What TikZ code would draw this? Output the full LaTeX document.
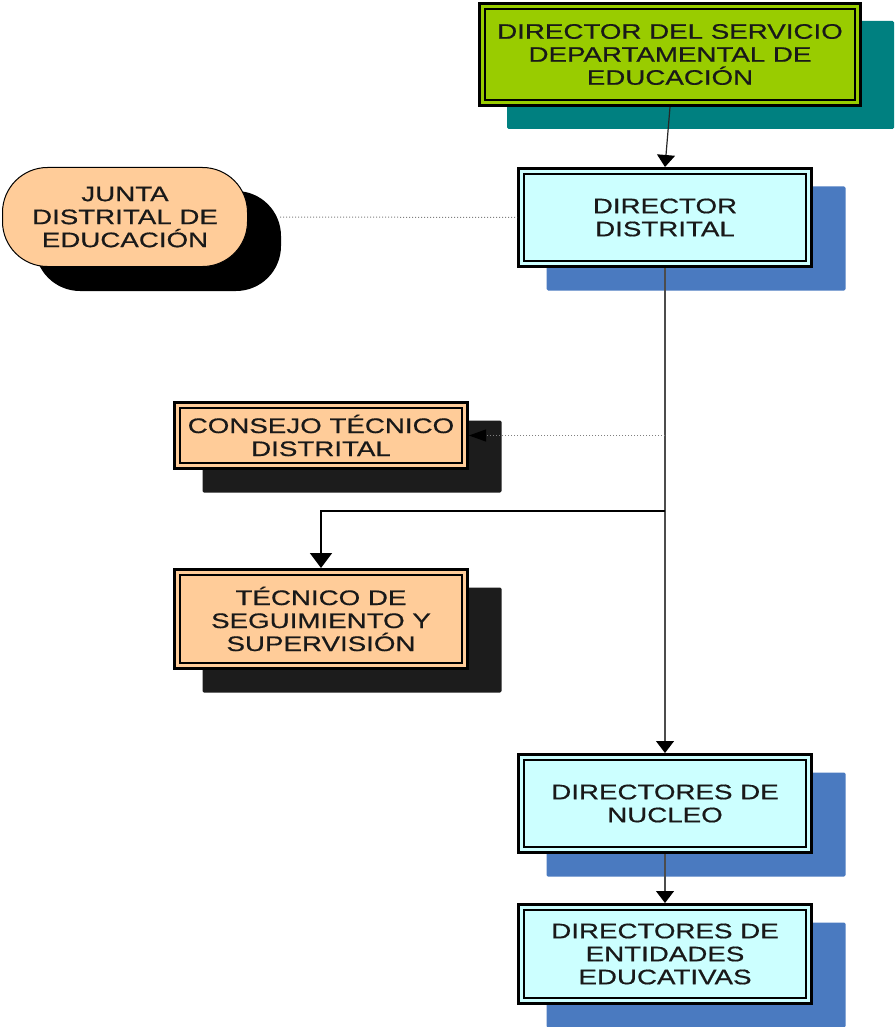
\documentclass[tikz,border=0pt]{standalone}
\usepackage{fontspec}
\setmainfont{Liberation Sans}[FakeStretch=1.32, FakeBold=0.6]
\usetikzlibrary{arrows.meta,calc,backgrounds}
\definecolor{boxgreen}{HTML}{99CC00}
\definecolor{shteal}{HTML}{008080}
\definecolor{boxcyan}{HTML}{CCFFFF}
\definecolor{shblue}{HTML}{4A7AC0}
\definecolor{boxpeach}{HTML}{FFCC99}
\definecolor{shdark}{HTML}{1C1C1C}
\begin{document}
\begin{tikzpicture}[x=1pt,y=-1pt,
  lbl/.style={align=center, inner sep=0pt, font=\fontsize{21}{23}\selectfont, text=black!90},
  unitbox/.style={lbl, rectangle, draw=black, line width=3pt, minimum width=293pt,
    path picture={\draw[line width=2pt]
      ($(path picture bounding box.south west)+(5.5,-5.5)$) rectangle
      ($(path picture bounding box.north east)+(-5.5,5.5)$);}},
  roundbox/.style={lbl, rectangle, rounded corners=45pt, draw=black, line width=1pt,
    fill=boxpeach, minimum width=245pt, minimum height=99pt},
  tipS/.style={-{Triangle[width=18pt,length=12pt,color=black,fill=black]}},
  conn/.style={draw=black!85, line width=1.2pt, tipS},
  trunk/.style={draw=black!70, line width=1.1pt, tipS},
  branch/.style={draw=black, line width=2pt, -{Triangle[width=22pt,length=15pt]}},
  dots/.style={draw=black!50, line width=1pt, dash pattern=on 1pt off 2pt}
]
\useasboundingbox (0,0) rectangle (894,1027);

% organisation units
\node[unitbox, fill=boxgreen, minimum width=381pt, minimum height=102pt] (top) at (670,54.5)
  {DIRECTOR DEL SERVICIO\\DEPARTAMENTAL DE\\EDUCACIÓN};
\node[unitbox, fill=boxcyan, minimum height=98pt] (dd) at (665,217.5)
  {DIRECTOR\\DISTRITAL};
\node[roundbox] (jun) at (125,217) {JUNTA\\DISTRITAL DE\\EDUCACIÓN};
\node[unitbox, fill=boxpeach, minimum height=66pt] (con) at (321,435.5)
  {CONSEJO TÉCNICO\\DISTRITAL};
\node[unitbox, fill=boxpeach, minimum height=99pt] (tec) at (321,619)
  {TÉCNICO DE\\SEGUIMIENTO Y\\SUPERVISIÓN};
\node[unitbox, fill=boxcyan, minimum height=98pt] (nuc) at (665,803.5)
  {DIRECTORES DE\\NUCLEO};
\node[unitbox, fill=boxcyan, minimum height=99pt] (ent) at (665,954)
  {DIRECTORES DE\\ENTIDADES\\EDUCATIVAS};

% offset shadows behind the boxes
\begin{scope}[on background layer]
  \foreach \n/\c/\dx/\dy in {top/shteal/30.5/20.5, dd/shblue/31/21, con/shdark/31/21,
      tec/shdark/31/21, nuc/shblue/31/21, ent/shblue/31/21}
    \fill[\c, rounded corners=1.5pt] ($(\n.north west)+(\dx-1.5,\dy-1.5)$) rectangle
      ($(\n.south east)+(\dx+1.5,\dy+1.5)$);
  \fill[black, rounded corners=45pt] ($(jun.north west)+(33,24)$) rectangle
    ($(jun.south east)+(33,24)$);
\end{scope}

% connectors
\draw[conn] (top.south) -- (dd.north);
\draw[trunk] (dd.south) -- (nuc.north);
\draw[trunk] (nuc.south) -- (ent.north);

\coordinate (jEnd) at ($(jun.east)+(32,0)$);
\draw[dots] (jEnd) -- (dd.west);

\coordinate (cTap) at (dd.south |- con.east);
\draw[dots, -{Triangle[width=12pt,length=17pt,color=black,fill=black]}] (cTap) -- (con.east);

\coordinate (split) at (665,511);
\draw[branch] (split) -| (tec.north);
\end{tikzpicture}
\end{document}
